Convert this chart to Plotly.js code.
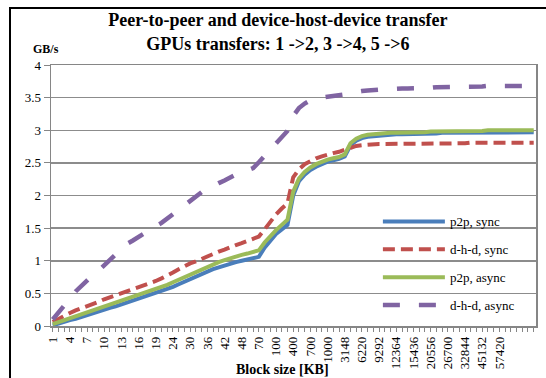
<!DOCTYPE html>
<html>
<head>
<meta charset="utf-8">
<script src="https://cdn.plot.ly/plotly-3.0.1.min.js"></script>
<style>
  body { margin: 0; background: #fff; }
  #graph { width: 546px; height: 378px; }
  #frame { position: absolute; left: 9px; top: 7px; width: 600px; height: 500px;
           border: 2px solid #000; pointer-events: none; }
</style>
</head>
<body>
<div id="graph"></div>
<div id="frame"></div>
<script>
// ブロックサイズ (KB) - カテゴリ軸
const blockSizes = [
  1, 2, 3, 4, 5, 6, 7, 8, 9, 10, 11, 12, 13, 14, 15, 16, 17, 18, 19,
  20, 22, 24, 26, 28, 30, 32, 34, 36, 38, 40, 42, 44, 46, 48, 50, 60, 70,
  80, 90, 100, 200, 300, 400, 500, 600, 700, 800, 900, 1000, 1100, 2124,
  3148, 4172, 5196, 6220, 7244, 8268, 9292, 10316, 11340, 12364, 13388,
  14412, 15436, 16460, 18508, 20556, 22604, 24652, 26700, 28748, 30796,
  32844, 36940, 41036, 45132, 49228, 53324, 57420, 61516, 65612, 69708,
  73804, 77900, 81996
];

// 目盛りラベルを表示する最後のブロックサイズ
const lastLabel = 57420;

// 転送速度 GB/s
const p2pSync = [
  0.01, 0.04, 0.06, 0.09, 0.11, 0.14, 0.17, 0.19, 0.22, 0.25, 0.28, 0.30, 0.33, 0.36, 0.39, 0.42, 0.45, 0.47, 0.50,
  0.53, 0.56, 0.60, 0.64, 0.68, 0.72, 0.76, 0.80, 0.83, 0.87, 0.90, 0.93, 0.96, 0.98, 1.00, 1.02, 1.04, 1.06,
  1.20, 1.31, 1.41, 1.48, 1.55, 2.00, 2.22, 2.32, 2.39, 2.44, 2.48, 2.52, 2.54, 2.56,
  2.60, 2.77, 2.84, 2.88, 2.90, 2.91, 2.92, 2.93, 2.93, 2.94, 2.94,
  2.94, 2.95, 2.95, 2.95, 2.95, 2.95, 2.96, 2.96, 2.96, 2.96,
  2.96, 2.97, 2.97, 2.97, 2.97, 2.97, 2.97, 2.97, 2.97, 2.97,
  2.97, 2.97, 2.97
];

const dhdSync = [
  0.06, 0.11, 0.15, 0.20, 0.24, 0.27, 0.31, 0.34, 0.37, 0.41, 0.44, 0.47, 0.50, 0.53, 0.56, 0.59, 0.62, 0.66, 0.69,
  0.73, 0.77, 0.82, 0.87, 0.92, 0.96, 0.99, 1.03, 1.07, 1.10, 1.14, 1.17, 1.21, 1.24, 1.27, 1.30, 1.33, 1.37,
  1.48, 1.60, 1.71, 1.80, 1.88, 2.28, 2.40, 2.48, 2.53, 2.57, 2.60, 2.63, 2.65, 2.67,
  2.70, 2.74, 2.76, 2.77, 2.78, 2.78, 2.79, 2.79, 2.79, 2.79, 2.79,
  2.80, 2.80, 2.80, 2.80, 2.80, 2.80, 2.80, 2.80, 2.80, 2.80,
  2.80, 2.81, 2.81, 2.81, 2.81, 2.81, 2.81, 2.81, 2.81, 2.81,
  2.81, 2.81, 2.81
];

const p2pAsync = [
  0.03, 0.06, 0.09, 0.12, 0.14, 0.17, 0.20, 0.23, 0.26, 0.29, 0.32, 0.35, 0.38, 0.41, 0.44, 0.48, 0.51, 0.54, 0.57,
  0.60, 0.63, 0.67, 0.71, 0.75, 0.79, 0.83, 0.87, 0.91, 0.95, 0.98, 1.01, 1.04, 1.07, 1.09, 1.11, 1.14, 1.16,
  1.28, 1.38, 1.47, 1.55, 1.63, 2.06, 2.26, 2.36, 2.43, 2.48, 2.52, 2.55, 2.57, 2.59,
  2.63, 2.80, 2.87, 2.91, 2.93, 2.94, 2.95, 2.95, 2.96, 2.96, 2.96,
  2.97, 2.97, 2.97, 2.97, 2.98, 2.98, 2.98, 2.98, 2.98, 2.99,
  2.99, 2.99, 2.99, 2.99, 3.00, 3.00, 3.00, 3.00, 3.00, 3.00,
  3.00, 3.00, 3.00
];

const dhdAsync = [
  0.10, 0.20, 0.31, 0.42, 0.53, 0.62, 0.70, 0.78, 0.85, 0.93, 1.01, 1.10, 1.18, 1.26, 1.31, 1.37, 1.43, 1.48, 1.53,
  1.58, 1.65, 1.72, 1.79, 1.86, 1.93, 1.99, 2.05, 2.10, 2.15, 2.19, 2.23, 2.28, 2.32, 2.35, 2.38, 2.42, 2.51,
  2.61, 2.71, 2.81, 2.90, 2.99, 3.22, 3.34, 3.41, 3.46, 3.49, 3.50, 3.51, 3.52, 3.53,
  3.55, 3.57, 3.59, 3.60, 3.61, 3.62, 3.62, 3.63, 3.63, 3.64, 3.64,
  3.64, 3.64, 3.65, 3.65, 3.65, 3.66, 3.66, 3.66, 3.66, 3.67,
  3.67, 3.67, 3.67, 3.67, 3.68, 3.68, 3.68, 3.68, 3.68, 3.68,
  3.68, 3.68, 3.68
];

const seriesNames = ["p2p, sync", "d-h-d, sync", "p2p, async", "d-h-d, async"];

const serif = "Liberation Serif, Times New Roman, serif";
const cats = blockSizes.map(String);

// ラベルは3カテゴリごと、目盛りは全カテゴリ
const tickText = blockSizes.map((b, i) => (i % 3 === 0 && b <= lastLabel ? String(b) : ""));

function line(y, name, color, dash, width) {
  return {
    x: cats, y: y, name: name, type: "scatter", mode: "lines",
    line: { color: color, width: width, dash: dash },
    legendgroup: name
  };
}

const data = [
  line(p2pSync, seriesNames[0], "#4a7ebb", "solid", 4),
  line(dhdSync, seriesNames[1], "#c0504d", "12px,6px", 4),
  line(p2pAsync, seriesNames[2], "#9bbb59", "solid", 4),
  line(dhdAsync, seriesNames[3], "#8064a2", "17px,19px", 4.5)
];

const layout = {
  width: 546, height: 378,
  margin: { l: 51, r: 10, t: 65, b: 52 },
  paper_bgcolor: "#fff", plot_bgcolor: "#fff",
  font: { family: serif, size: 13, color: "#000" },
  title: {
    text: "<b>Peer-to-peer and device-host-device transfer</b><br><b>GPUs transfers: 1 ->2, 3 ->4, 5 ->6</b>",
    font: { family: serif, size: 18, color: "#000" },
    x: 0.509, xanchor: "center", y: 0.93, yanchor: "top", yref: "container"
  },
  xaxis: {
    type: "category", range: [-0.3, 84.4],
    tickmode: "array", tickvals: cats, ticktext: tickText,
    tickangle: -90, ticks: "outside", ticklen: 4, tickcolor: "#868686",
    tickfont: { family: serif, size: 13 },
    showgrid: false, showline: true, linecolor: "#868686", linewidth: 1.5, mirror: true,
    zeroline: false
  },
  yaxis: {
    range: [0, 4], dtick: 0.5, tick0: 0,
    ticks: "outside", ticklen: 6, tickcolor: "#868686",
    tickfont: { family: serif, size: 13 },
    showgrid: true, gridcolor: "#8c8c8c", gridwidth: 1.5,
    showline: true, linecolor: "#868686", linewidth: 1.5, mirror: true,
    zeroline: false
  },
  showlegend: true,
  legend: {
    x: 0.674, xanchor: "left", y: 0.458, yanchor: "top",
    bgcolor: "rgba(0,0,0,0)", itemwidth: 62, tracegroupgap: 8,
    font: { family: serif, size: 13 }
  },
  annotations: [
    { text: "<b>GB/s</b>", xref: "paper", yref: "paper", x: -0.01, y: 1.06,
      xanchor: "center", yanchor: "middle", showarrow: false,
      font: { family: serif, size: 12 } },
    { text: "<b>Block size [KB]</b>", xref: "paper", yref: "paper", x: 0.478, y: -0.168,
      xanchor: "center", yanchor: "middle", showarrow: false,
      font: { family: serif, size: 14 } }
  ]
};

Plotly.newPlot("graph", data, layout, { staticPlot: true });
</script>
</body>
</html>
